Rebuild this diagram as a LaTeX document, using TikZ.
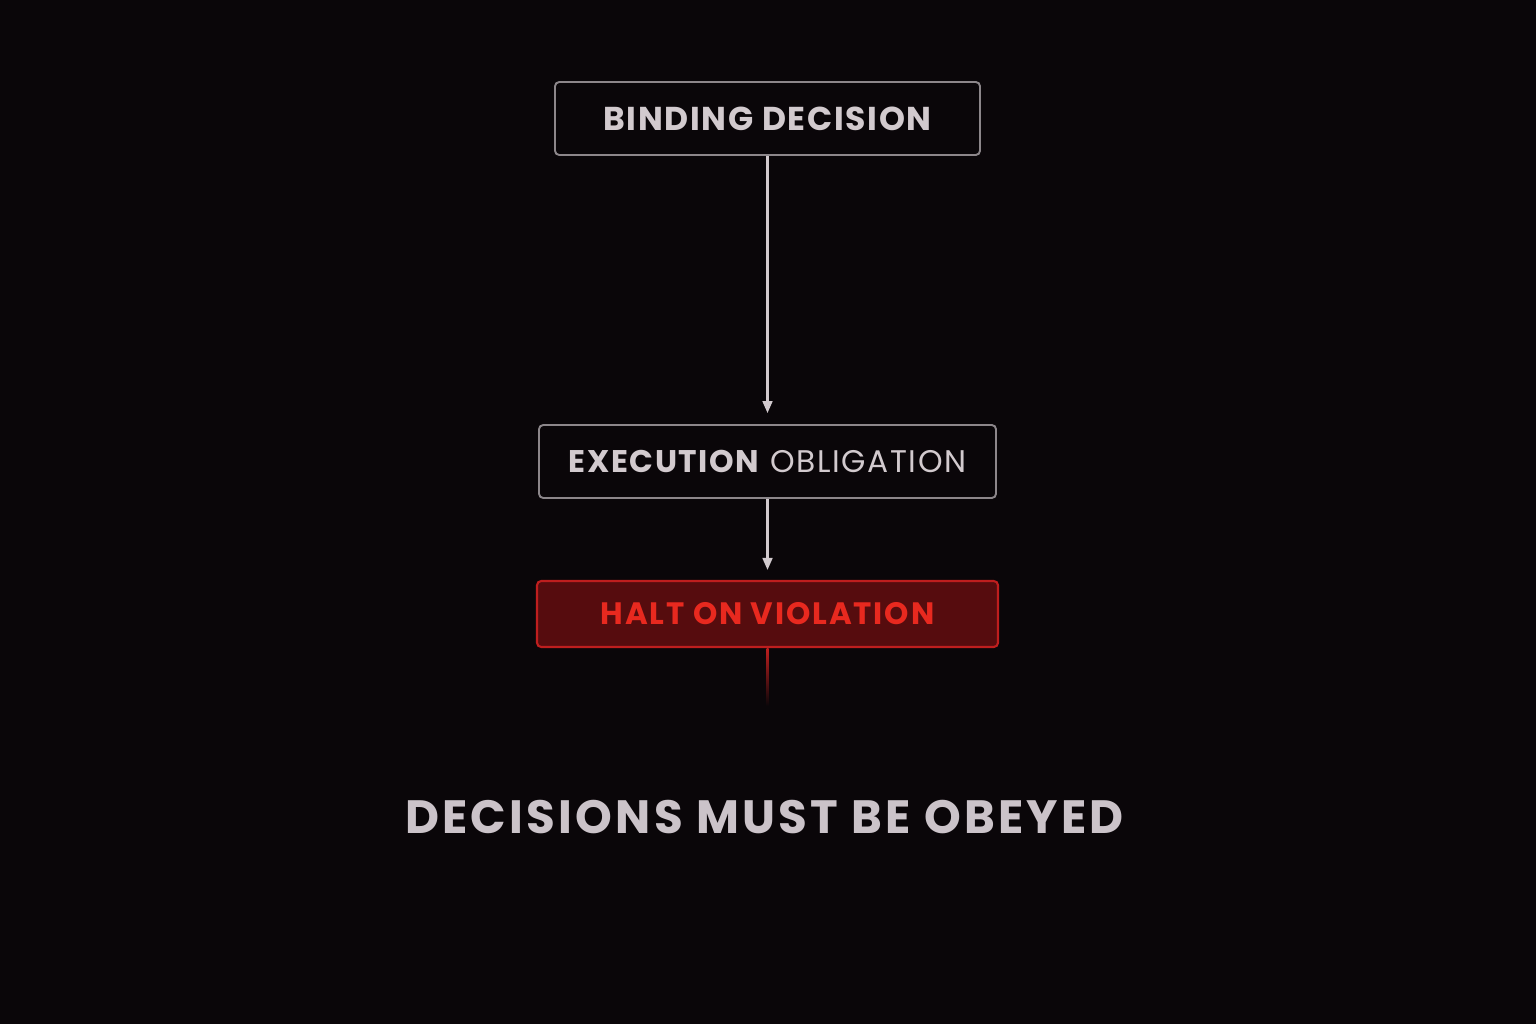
\documentclass[tikz,border=0pt]{standalone}
\usepackage{fontspec}
\setmainfont{Poppins}
\usetikzlibrary{calc,arrows.meta}
\definecolor{bgdark}{HTML}{0A0609}
\definecolor{boxline}{HTML}{8C868A}
\definecolor{boxtext}{HTML}{D2CACE}
\definecolor{haltfill}{HTML}{560C0E}
\definecolor{haltline}{HTML}{BE1E1E}
\definecolor{halttext}{HTML}{E8291F}
\definecolor{mottotext}{HTML}{CBC3C9}
\tikzset{%
  stagebox/.style={draw=boxline,line width=0.55pt,rounded corners=1.2pt,
    fill=bgdark,text=boxtext,inner sep=0pt,minimum height=0.73cm},
  haltbox/.style={draw=haltline,line width=0.6pt,rounded corners=1.2pt,
    fill=haltfill,text=halttext,inner sep=0pt,minimum height=0.66cm},
  flow/.style={draw=boxtext,line width=0.6pt,
    -{Triangle[width=2.8pt,length=3.4pt]}},
}
\begin{document}
\begin{tikzpicture}[x=1cm,y=1cm]
  % background, 1536 x 1024 px at 0.01cm per px
  \fill[bgdark] (0,0) rectangle (15.36,10.24);
  \useasboundingbox (0,0) rectangle (15.36,10.24);
  % stages
  \node[stagebox,minimum width=4.25cm] (bind) at (7.675,9.055)
    {\fontsize{9.4}{10}\selectfont\addfontfeatures{LetterSpace=5}\bfseries BINDING DECISION};
  \node[stagebox,minimum width=4.57cm] (exec) at (7.675,5.625)
    {\fontsize{8.9}{10}\selectfont\addfontfeatures{LetterSpace=5}\textbf{EXECUTION} OBLIGATION};
  \node[haltbox,minimum width=4.61cm] (halt) at (7.675,4.10)
    {\fontsize{8.8}{10}\selectfont\addfontfeatures{LetterSpace=6}\bfseries HALT ON VIOLATION};
  % connectors
  \draw[flow,shorten >=0.11cm] (bind) -- (exec);
  \draw[flow,shorten >=0.10cm] (exec) -- (halt);
  \coordinate (tail) at ($(halt.south)+(0,-0.58)$);
  \shade[top color=haltline,bottom color=bgdark]
    ($(halt.south)+(-0.01,0)$) rectangle ($(tail)+(0.01,0)$);
  % motto
  \node[text=mottotext] (motto) at (7.645,2.065)
    {\fontsize{13.3}{14}\selectfont\addfontfeatures{LetterSpace=7}\bfseries DECISIONS MUST BE OBEYED};
\end{tikzpicture}
\end{document}
